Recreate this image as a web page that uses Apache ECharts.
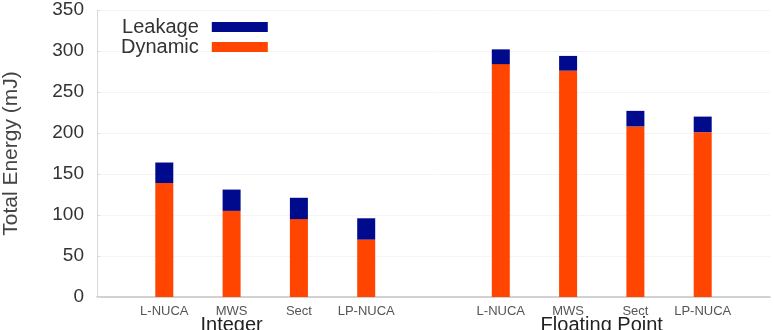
<!DOCTYPE html>
<html>
<head>
<meta charset="utf-8">
<script src="https://cdn.jsdelivr.net/npm/echarts@6/dist/echarts.min.js"></script>
<style>
  html, body { margin: 0; padding: 0; background: #fff; }
  #chart { width: 774px; height: 330px; }
</style>
</head>
<body>
<div id="chart"></div>
<script>
// blank slots at both ends and between the two groups
var categories = ["", "L-NUCA", "MWS", "Sect", "LP-NUCA", "", "L-NUCA", "MWS", "Sect", "LP-NUCA", ""];
var dynamic = [null, 139, 105, 95, 70, null, 284, 276, 208, 201, null];
var leakage = [null, 25, 26, 26, 26, null, 18, 18, 19, 19, null];
var groups = [
  { name: "Integer", at: 2 },
  { name: "Floating Point", at: 7.5 }
];
var yTicks = [0, 50, 100, 150, 200, 250, 300, 350];

var font = "Liberation Sans, Arial, Helvetica, sans-serif";
var chart = echarts.init(document.getElementById("chart"));

var option = {
  animation: false,
  grid: { left: 97, right: 4, top: 10, bottom: 33, outerBoundsMode: "none", containLabel: false },
  legend: {
    data: ["Leakage", "Dynamic"],
    orient: "vertical",
    align: "right",
    left: 116,
    top: 12,
    itemGap: 0,
    itemWidth: 56,
    itemHeight: 10,
    icon: "rect",
    textStyle: { fontFamily: font, fontSize: 20, color: "#333", padding: [0, 8, 0, 0] }
  },
  xAxis: {
    type: "category",
    data: categories,
    boundaryGap: false,
    axisLine: { lineStyle: { color: "#c4c4c4", width: 1.5 } },
    axisTick: { show: false },
    axisLabel: { interval: 0, fontFamily: font, fontSize: 13, color: "#555", margin: 8 },
    splitLine: { show: false }
  },
  yAxis: {
    type: "value",
    min: yTicks[0],
    max: yTicks[yTicks.length - 1],
    interval: 50,
    name: "Total Energy (mJ)",
    nameLocation: "middle",
    nameGap: 75,
    nameTextStyle: { fontFamily: font, fontSize: 21, color: "#444" },
    axisLine: { show: true, lineStyle: { color: "#d8d8d8" } },
    axisTick: { show: true, inside: true, length: 3, lineStyle: { color: "#ddd" } },
    axisLabel: { fontFamily: font, fontSize: 19, color: "#333", margin: 13 },
    splitLine: { show: true, lineStyle: { color: "#f4f4f4" } }
  },
  series: [
    {
      name: "Dynamic",
      type: "bar",
      stack: "total",
      barWidth: 18,
      itemStyle: { color: "#ff4500" },
      data: dynamic
    },
    {
      name: "Leakage",
      type: "bar",
      stack: "total",
      barWidth: 18,
      itemStyle: { color: "#000a8c" },
      data: leakage
    }
  ]
};
chart.setOption(option);

// group captions under the axis, placed through the axis scale
var graphics = groups.map(function (g) {
  var lo = Math.floor(g.at), hi = Math.ceil(g.at);
  var x = (chart.convertToPixel({ xAxisIndex: 0 }, lo) + chart.convertToPixel({ xAxisIndex: 0 }, hi)) / 2;
  return {
    type: "text",
    x: x,
    y: 315,
    style: { text: g.name, font: "20px " + font, fill: "#222", textAlign: "center", textVerticalAlign: "top" }
  };
});
chart.setOption({ graphic: graphics });
</script>
</body>
</html>
